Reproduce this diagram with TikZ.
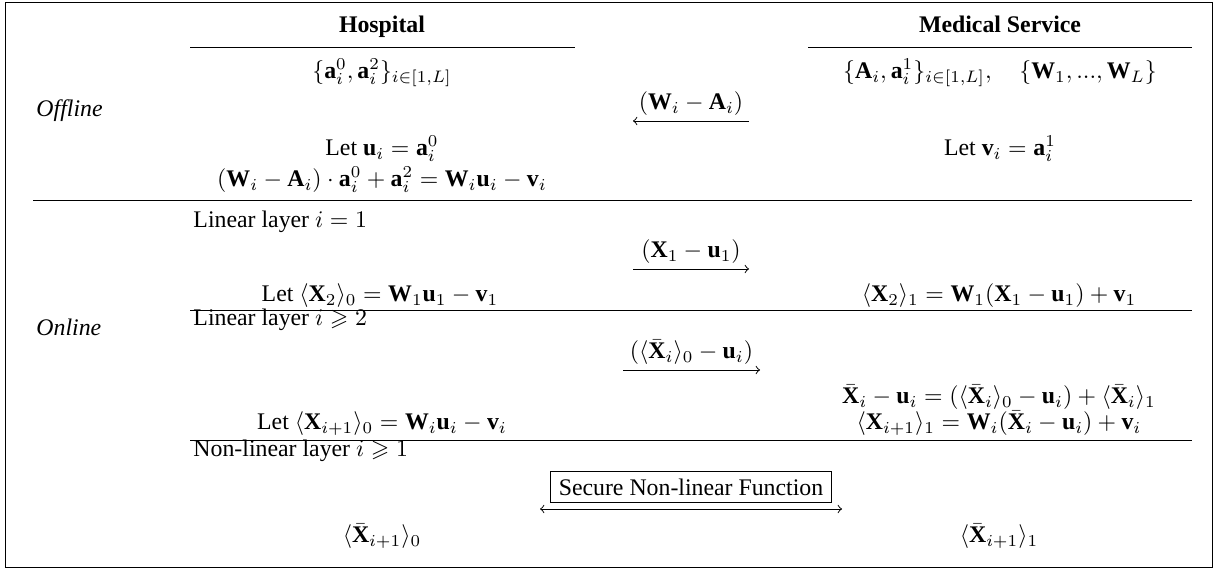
\documentclass[tikz,border=0pt]{standalone}
\usepackage{fontspec}
\setmainfont{Liberation Serif}
\usepackage{amsmath}
\usepackage{amssymb}
\usepackage{tikz}
\usetikzlibrary{positioning}

\begin{document}
\begin{tikzpicture}[x=0.42pt,y=-0.42pt,
  every node/.style={inner sep=0pt},
  party/.style={anchor=base,font=\bfseries},
  phase/.style={anchor=west,font=\itshape},
  layer/.style={anchor=west},
  msg/.style={->,line width=0.4pt},
  msglabel/.style={midway,above=2pt}]

\useasboundingbox (0,0) rectangle (1215,570);
\draw (5,2) rectangle (1212,567);

\node[party] (hosp) at (382,33) {Hospital};
\node[party] (serv) at (1000,33) {Medical Service};
\draw (190,47) -- (575,47);
\draw (808,47) -- (1192,47);

\node (hinit) at (382,73) {$\{\mathbf{a}_i^0,\mathbf{a}_i^2\}_{i\in[1,L]}$};
\node (sinit) at (1000,73) {$\{\mathbf{A}_i,\mathbf{a}_i^1\}_{i\in[1,L]},\quad\{\mathbf{W}_1,...,\mathbf{W}_L\}$};
\node[phase] (off) at (36,111) {Offline};
\node (hlet) at (382,149) {Let $\mathbf{u}_i=\mathbf{a}_i^0$};
\node (heq) at (382,180) {$(\mathbf{W}_i-\mathbf{A}_i)\cdot\mathbf{a}_i^0+\mathbf{a}_i^2=\mathbf{W}_i\mathbf{u}_i-\mathbf{v}_i$};
\node (slet) at (1000,149) {Let $\mathbf{v}_i=\mathbf{a}_i^1$};

\coordinate (m1l) at (633,121);
\coordinate (m1r) at (749,121);
\draw[msg] (m1r) -- (m1l) node[msglabel] {$(\mathbf{W}_i-\mathbf{A}_i)$};

\draw (33,200) -- (1192,200);

\node[layer] (lin1) at (193,222) {Linear layer $i=1$};
\coordinate (m2l) at (633,269);
\coordinate (m2r) at (749,269);
\draw[msg] (m2l) -- (m2r) node[msglabel] {$(\mathbf{X}_1-\mathbf{u}_1)$};
\node (hx2) at (380,296) {Let $\langle\mathbf{X}_2\rangle_0=\mathbf{W}_1\mathbf{u}_1-\mathbf{v}_1$};
\node (sx2) at (999,296) {$\langle\mathbf{X}_2\rangle_1=\mathbf{W}_1(\mathbf{X}_1-\mathbf{u}_1)+\mathbf{v}_1$};

\foreach \y in {310,440} {
  \draw (190,\y) -- (1192,\y);
}

\node[phase] (on) at (36,327) {Online};
\node[layer] (lin2) at (193,320) {Linear layer $i\geqslant 2$};
\coordinate (m3l) at (623,370);
\coordinate (m3r) at (760,370);
\draw[msg] (m3l) -- (m3r) node[msglabel] {$(\langle\bar{\mathbf{X}}_i\rangle_0-\mathbf{u}_i)$};
\node (sxb) at (999,397) {$\bar{\mathbf{X}}_i-\mathbf{u}_i=(\langle\bar{\mathbf{X}}_i\rangle_0-\mathbf{u}_i)+\langle\bar{\mathbf{X}}_i\rangle_1$};
\node (sxn) at (999,423) {$\langle\mathbf{X}_{i+1}\rangle_1=\mathbf{W}_i(\bar{\mathbf{X}}_i-\mathbf{u}_i)+\mathbf{v}_i$};
\node (hxn) at (382,424) {Let $\langle\mathbf{X}_{i+1}\rangle_0=\mathbf{W}_i\mathbf{u}_i-\mathbf{v}_i$};

\node[layer] (nonlin) at (193,451) {Non-linear layer $i\geqslant 1$};
\node[draw,line width=0.6pt,inner xsep=3.5pt,inner ysep=3pt] (snf) at (691,487) {Secure Non-linear Function};
\coordinate (m4l) at (540,509);
\coordinate (m4r) at (842,509);
\draw[msg,<->] (m4l) -- (m4r);

\node (hxo) at (382,536) {$\langle\bar{\mathbf{X}}_{i+1}\rangle_0$};
\node (sxo) at (999,536) {$\langle\bar{\mathbf{X}}_{i+1}\rangle_1$};

\end{tikzpicture}
\end{document}
